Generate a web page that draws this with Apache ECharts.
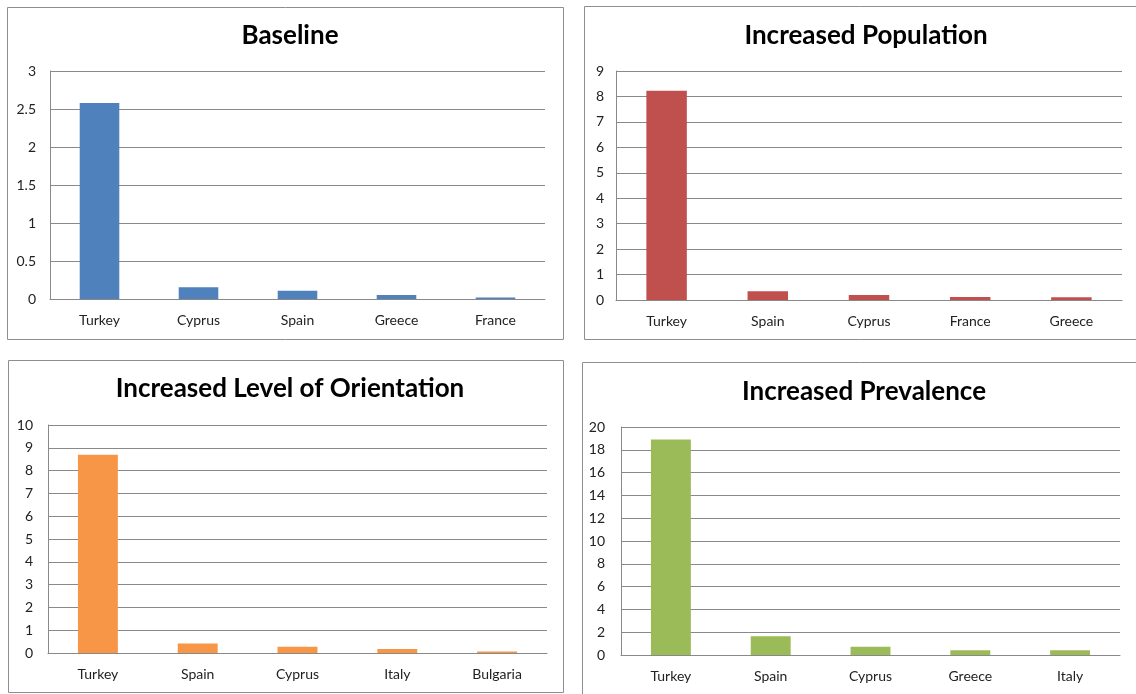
<!DOCTYPE html>
<html>
<head>
<meta charset="utf-8">
<title>Scenario comparison</title>
<script src="https://cdn.jsdelivr.net/npm/echarts@6/dist/echarts.min.js"></script>
<style>
  html, body { margin: 0; padding: 0; background: #ffffff; }
  #chart { width: 1136px; height: 694px; }
</style>
</head>
<body>
<div id="chart"></div>
<script>
// Panel titles
const titles = ['Baseline', 'Increased Population', 'Increased Level of Orientation', 'Increased Prevalence'];

// Categories per panel
const baselineCountries = ['Turkey', 'Cyprus', 'Spain', 'Greece', 'France'];
const populationCountries = ['Turkey', 'Spain', 'Cyprus', 'France', 'Greece'];
const orientationCountries = ['Turkey', 'Spain', 'Cyprus', 'Italy', 'Bulgaria'];
const prevalenceCountries = ['Turkey', 'Spain', 'Cyprus', 'Greece', 'Italy'];

// Values per panel
const baselineValues = [2.58, 0.155, 0.11, 0.052, 0.02];
const populationValues = [8.22, 0.34, 0.2, 0.12, 0.11];
const orientationValues = [8.7, 0.42, 0.275, 0.17, 0.065];
const prevalenceValues = [18.9, 1.64, 0.73, 0.41, 0.41];

// Y axis ranges: [min, max, interval]
const yRanges = [[0, 3, 0.5], [0, 9, 1], [0, 10, 1], [0, 20, 2]];

const colors = ['#4F81BD', '#C0504D', '#F79646', '#9BBB59'];

const categories = [baselineCountries, populationCountries, orientationCountries, prevalenceCountries];
const values = [baselineValues, populationValues, orientationValues, prevalenceValues];

// Layout of each panel: frame box, plot box, title anchor
const panels = [
  { frame: [7, 7, 556, 332],   grid: { left: 50,  top: 71,  width: 495, height: 228 }, tx: 285, ty: 18, yMargin: 14 },
  { frame: [584, 6, 600, 333], grid: { left: 616, top: 71,  width: 506, height: 229 }, tx: 861, ty: 18, yMargin: 12 },
  { frame: [8, 360, 555, 332], grid: { left: 48,  top: 425, width: 499, height: 228 }, tx: 285, ty: 371, yMargin: 15 },
  { frame: [582, 362, 600, 400], grid: { left: 621, top: 427, width: 499, height: 228 }, tx: 859, ty: 374, yMargin: 16 }
];

const FONT = 'Lato, "Open Sans", sans-serif';
const gridColor = '#898989';

const option = {
  backgroundColor: '#ffffff',
  animation: false,
  title: panels.map((p, i) => ({
    text: titles[i],
    left: p.tx,
    top: p.ty,
    textAlign: 'center',
    textStyle: { fontFamily: FONT, fontWeight: 'bold', fontSize: 26, color: '#000000' }
  })),
  graphic: panels.map(p => ({
    type: 'rect',
    shape: { x: p.frame[0] + 0.5, y: p.frame[1] + 0.5, width: p.frame[2], height: p.frame[3] },
    style: { fill: 'none', stroke: '#8e8e8e', lineWidth: 1 },
    silent: true
  })),
  grid: panels.map(p => Object.assign({ containLabel: false }, p.grid)),
  xAxis: panels.map((p, i) => ({
    type: 'category',
    gridIndex: i,
    data: categories[i],
    axisLine: { show: true, lineStyle: { color: gridColor, width: 1 } },
    axisTick: { show: false },
    axisLabel: { fontFamily: FONT, fontSize: 14, color: '#222222', margin: 14 },
    splitLine: { show: false }
  })),
  yAxis: panels.map((p, i) => ({
    type: 'value',
    gridIndex: i,
    min: yRanges[i][0],
    max: yRanges[i][1],
    interval: yRanges[i][2],
    axisLine: { show: true, lineStyle: { color: gridColor, width: 1 } },
    axisTick: { show: false },
    axisLabel: { fontFamily: FONT, fontSize: 14, color: '#222222', margin: p.yMargin },
    splitLine: { show: true, lineStyle: { color: gridColor, width: 1 } }
  })),
  series: panels.map((p, i) => ({
    type: 'bar',
    xAxisIndex: i,
    yAxisIndex: i,
    data: values[i],
    barCategoryGap: '60%',
    itemStyle: { color: colors[i] }
  }))
};

const chart = echarts.init(document.getElementById('chart'), null, { renderer: 'canvas' });
chart.setOption(option);
</script>
</body>
</html>
